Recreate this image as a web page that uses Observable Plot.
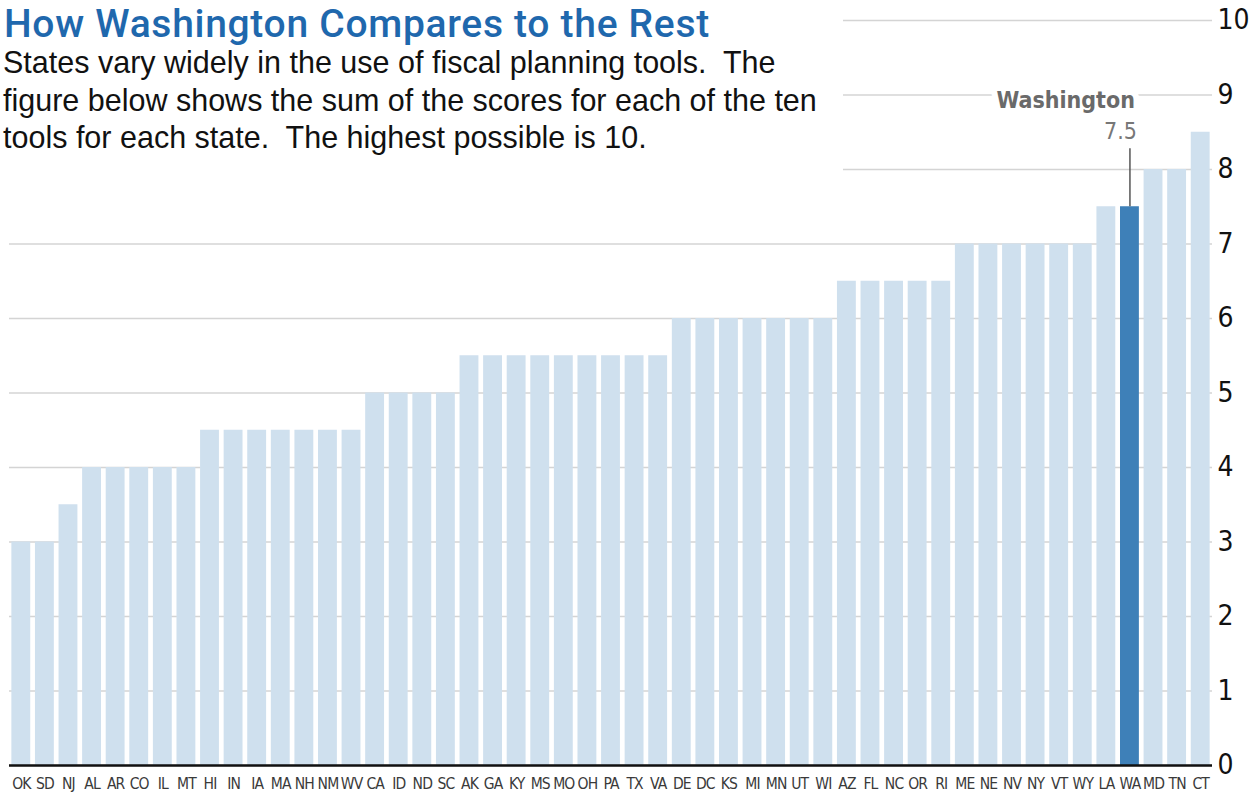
<!DOCTYPE html>
<html><head><meta charset="utf-8">
<script src="https://cdn.jsdelivr.net/npm/d3@7"></script>
<script src="https://cdn.jsdelivr.net/npm/@observablehq/plot@0.6"></script>
<style>
body{margin:0;background:#fff;}
#wrap{position:relative;width:1251px;height:797px;overflow:hidden;}
#head{position:absolute;left:0;top:0;width:843px;height:190px;background:#fff;z-index:2;}
.title{position:absolute;left:4px;top:1px;font-family:Roboto,"Liberation Sans",sans-serif;font-weight:500;font-size:39px;letter-spacing:0.7px;line-height:46px;color:#1f68ad;white-space:nowrap;}
.sub{position:absolute;left:3px;top:44px;font-family:"Liberation Sans",Arial,sans-serif;font-size:30.5px;line-height:37.5px;color:#111;white-space:nowrap;}
#chart svg text{font-stretch:condensed;}
#chart svg g[aria-label="x-axis tick label"] text{letter-spacing:-0.9px;}
</style></head>
<body><div id="wrap"><div id="head"><div class="title">How Washington Compares to the Rest</div><div class="sub">States vary widely in the use of fiscal planning tools.&nbsp; The<br>figure below shows the sum of the scores for each of the ten<br>tools for each state.&nbsp; The highest possible is 10.</div></div><div id="chart"></div></div>
<script>
const states = ["OK","SD","NJ","AL","AR","CO","IL","MT","HI","IN","IA","MA","NH","NM","WV","CA","ID","ND","SC","AK","GA","KY","MS","MO","OH","PA","TX","VA","DE","DC","KS","MI","MN","UT","WI","AZ","FL","NC","OR","RI","ME","NE","NV","NY","VT","WY","LA","WA","MD","TN","CT"];
const scores = [3,3,3.5,4,4,4,4,4,4.5,4.5,4.5,4.5,4.5,4.5,4.5,5,5,5,5,5.5,5.5,5.5,5.5,5.5,5.5,5.5,5.5,5.5,6,6,6,6,6,6,6,6.5,6.5,6.5,6.5,6.5,7,7,7,7,7,7,7.5,7.5,8,8,8.5];
const yTicks = [0,1,2,3,4,5,6,7,8,9,10];
const highlight = "WA";
const highlightName = "Washington";

const data = states.map((s, i) => ({state: s, score: scores[i]}));
const others = data.filter(d => d.state !== highlight);
const hi = data.filter(d => d.state === highlight);
const leader = 0.78; // leader line length above the bar, in score units

const narrow = '"DejaVu Sans Condensed","DejaVu Sans",sans-serif';

const chart = Plot.plot({
  width: 1251,
  height: 797,
  marginTop: 20,
  marginBottom: 32,
  marginLeft: 9,
  marginRight: 39,
  style: {fontFamily: narrow, background: "white", overflow: "visible"},
  x: {domain: states, paddingInner: 0.2, paddingOuter: 0.1, round: false, label: null},
  y: {domain: [0, 10], ticks: yTicks, label: null},
  marks: [
    Plot.gridY(yTicks, {stroke: "#d4d4d4", strokeOpacity: 1, strokeWidth: 1.5}),
    Plot.barY(others, {x: "state", y: "score", fill: "#cfe0ee"}),
    Plot.barY(hi, {x: "state", y: "score", fill: "#3e80b8"}),
    Plot.ruleY([0], {stroke: "#111", strokeWidth: 2.5}),
    Plot.axisX({tickSize: 0, tickPadding: 12, fontSize: 15.5, fill: "#3a3a3a", label: null}),
    Plot.axisY({anchor: "right", ticks: yTicks, tickSize: 0, tickPadding: 5, fontSize: 28, fill: "#111", label: null}),
    Plot.ruleX(hi, {x: "state", y1: "score", y2: d => d.score + leader, stroke: "#555", strokeWidth: 1.5}),
    Plot.text(hi, {x: "state", y: d => d.score + leader, text: d => d3.format(".1f")(d.score), dy: -17, dx: 7, textAnchor: "end", fontSize: 23, fill: "#777"}),
    Plot.text(hi, {x: "state", y: d => d.score + leader, text: () => highlightName, dy: -48, dx: 5, textAnchor: "end", fontSize: 23, fontWeight: "bold", fill: "#6a6a6a", stroke: "white", strokeWidth: 12, paintOrder: "stroke"})
  ]
});
document.getElementById("chart").appendChild(chart);
</script>
</body></html>
